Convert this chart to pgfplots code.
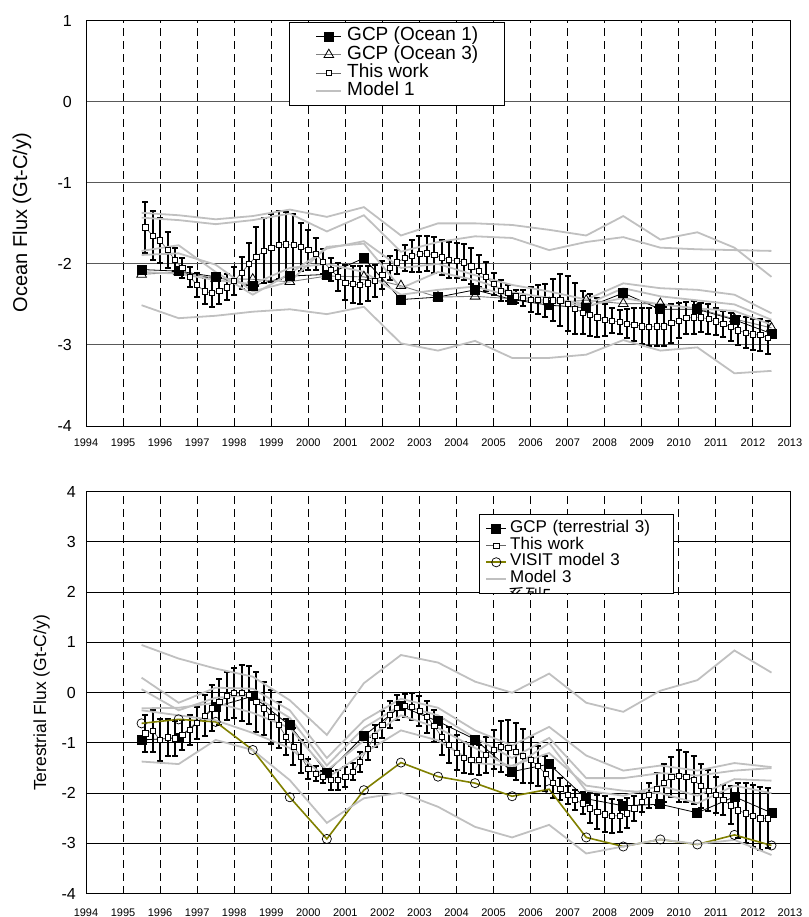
\documentclass[border=0pt]{standalone}
\usepackage{pgfplots}
\pgfplotsset{compat=1.18}
\usepackage{fontspec}
\setmainfont{Liberation Sans}
\newfontfamily\cjk{Noto Sans CJK JP}
\definecolor{mgray}{RGB}{192,192,192}
\definecolor{olivec}{RGB}{128,128,0}
\definecolor{gcpgray}{RGB}{128,128,128}
\pgfplotsset{
 common/.style={
  scale only axis, width=704pt, xmin=1994, xmax=2013, xtick={1994,...,2013},
  /pgf/number format/1000 sep={}, /pgf/number format/assume math mode=true,
  axis line style={black, line width=1pt},
  tick align=inside, major tick length=4pt, xtick pos=left,
  xtick style={black, line width=0.8pt}, ytick style={draw=none},
  xmajorgrids, ymajorgrids,
  x grid style={black, line width=0.8pt, dash pattern=on 8pt off 5pt},
  xticklabel style={font=\fontsize{11}{11}\selectfont},
  legend cell align=left,
 },
 modl/.style={mgray, line width=1.8pt, no markers},
 twork/.style={black!60, line width=0.7pt, mark=square*, mark size=2.6pt,
   mark options={black, fill=white, line width=0.7pt, solid},
   error bars/.cd, y dir=both, y explicit,
   error bar style={black, line width=2pt},
   error mark options={rotate=90, black, line width=2pt, mark size=3pt}},
}
\begin{document}
\begin{tikzpicture}
\path[use as bounding box] (0pt,0pt) rectangle (808pt,-917pt);
% ---------------- top panel
\begin{axis}[common, at={(86pt,-426pt)}, anchor=south west, height=405.3pt,
  ymin=-4, ymax=1, ytick={-4,...,1},
  y grid style={black!65, line width=1pt},
  yticklabel style={font=\fontsize{16}{16}\selectfont, xshift=-10.7pt},
  xticklabel style={yshift=-9.4pt},
  every axis y label/.style={at={(axis description cs:-0.0909,0.502)}, rotate=90, anchor=center},
  ylabel={\fontsize{20}{20}\selectfont Ocean Flux (Gt-C/y)},
  legend image code/.code={\draw[mark repeat=2,mark phase=2] plot coordinates {(0pt,0pt)(12.5pt,0pt)(25pt,0pt)};},
  legend style={at={(axis description cs:0.2884,0.9968)}, anchor=north west, draw=black, fill=white,
    line width=0.8pt, font=\fontsize{19}{19}\selectfont, inner xsep=26pt, inner ysep=4.9pt,
    row sep=0pt, column sep=5pt,
    nodes={inner sep=0pt, text height=13.5pt, text depth=4.8pt, anchor=west}},
]
\addplot[black, line width=0.8pt, mark=square*, mark size=4.5pt, mark options={solid, fill=black}] coordinates {
(1995.5,-2.07) (1996.5,-2.09) (1997.5,-2.16) (1998.5,-2.27) (1999.5,-2.15) (2000.5,-2.13)
(2001.5,-1.93) (2002.5,-2.44) (2003.5,-2.41) (2004.5,-2.32) (2005.5,-2.44) (2006.5,-2.51)
(2007.5,-2.54) (2008.5,-2.36) (2009.5,-2.56) (2010.5,-2.56) (2011.5,-2.69) (2012.5,-2.86)};
\addlegendentry{GCP (Ocean 1)}
\addplot[gcpgray, line width=0.9pt, mark=triangle, mark size=5.6pt, mark options={black, fill=white, line width=0.8pt, solid}] coordinates {
(1995.5,-2.13) (1996.5,-2.10) (1997.5,-2.18) (1998.5,-2.19) (1999.5,-2.22) (2000.5,-2.15)
(2001.5,-2.16) (2002.5,-2.27) (2003.5,-2.41) (2004.5,-2.40) (2005.5,-2.43) (2006.5,-2.48)
(2007.5,-2.45) (2008.5,-2.49) (2009.5,-2.49) (2010.5,-2.55) (2011.5,-2.68) (2012.5,-2.79)};
\addlegendentry{GCP (Ocean 3)}
\addplot[twork] table[x=x, y=y, y error=e] {
x y e
1995.6 -1.55 0.31
1995.8 -1.65 0.30
1996.0 -1.71 0.28
1996.2 -1.83 0.22
1996.4 -1.95 0.14
1996.6 -2.05 0.12
1996.8 -2.16 0.12
1997.0 -2.26 0.15
1997.2 -2.34 0.16
1997.4 -2.36 0.17
1997.6 -2.33 0.16
1997.8 -2.29 0.16
1998.0 -2.21 0.17
1998.2 -2.11 0.20
1998.4 -2.00 0.26
1998.6 -1.91 0.36
1998.8 -1.84 0.40
1999.0 -1.80 0.42
1999.2 -1.77 0.42
1999.4 -1.76 0.40
1999.6 -1.77 0.38
1999.8 -1.79 0.30
2000.0 -1.83 0.25
2000.2 -1.88 0.20
2000.4 -1.97 0.15
2000.6 -2.07 0.14
2000.8 -2.16 0.17
2001.0 -2.23 0.22
2001.2 -2.25 0.23
2001.4 -2.26 0.24
2001.6 -2.24 0.22
2001.8 -2.21 0.20
2002.0 -2.14 0.17
2002.2 -2.05 0.15
2002.4 -1.98 0.15
2002.6 -1.93 0.16
2002.8 -1.90 0.20
2003.0 -1.88 0.22
2003.2 -1.87 0.22
2003.4 -1.89 0.22
2003.6 -1.92 0.22
2003.8 -1.95 0.22
2004.0 -1.96 0.22
2004.2 -1.98 0.22
2004.4 -2.03 0.22
2004.6 -2.09 0.20
2004.8 -2.16 0.18
2005.0 -2.25 0.14
2005.2 -2.33 0.13
2005.4 -2.36 0.10
2005.6 -2.40 0.08
2005.8 -2.42 0.10
2006.0 -2.44 0.15
2006.2 -2.44 0.18
2006.4 -2.45 0.20
2006.6 -2.45 0.26
2006.8 -2.45 0.32
2007.0 -2.49 0.34
2007.2 -2.55 0.32
2007.4 -2.60 0.26
2007.6 -2.63 0.26
2007.8 -2.66 0.24
2008.0 -2.69 0.20
2008.2 -2.70 0.15
2008.4 -2.72 0.15
2008.6 -2.74 0.18
2008.8 -2.75 0.20
2009.0 -2.77 0.22
2009.2 -2.78 0.23
2009.4 -2.77 0.24
2009.6 -2.77 0.24
2009.8 -2.73 0.24
2010.0 -2.70 0.22
2010.2 -2.67 0.20
2010.4 -2.66 0.20
2010.6 -2.66 0.18
2010.8 -2.68 0.18
2011.0 -2.71 0.17
2011.2 -2.74 0.16
2011.4 -2.78 0.17
2011.6 -2.82 0.18
2011.8 -2.85 0.19
2012.0 -2.87 0.19
2012.2 -2.88 0.20
2012.4 -2.91 0.20
};
\addlegendentry{This work}
\addplot[modl] coordinates {
(1995.5,-1.37) (1996.5,-1.40) (1997.5,-1.45) (1998.5,-1.41) (1999.5,-1.33) (2000.5,-1.42)
(2001.5,-1.30) (2002.5,-1.65) (2003.5,-1.50) (2004.5,-1.50) (2005.5,-1.52) (2006.5,-1.58)
(2007.5,-1.65) (2008.5,-1.41) (2009.5,-1.70) (2010.5,-1.61) (2011.5,-1.80) (2012.5,-2.16)};
\addlegendentry{Model 1}
\addplot[modl, forget plot] coordinates {
(1995.5,-1.43) (1996.5,-1.46) (1997.5,-1.51) (1998.5,-1.46) (1999.5,-1.38) (2000.5,-1.60)
(2001.5,-1.40) (2002.5,-1.85) (2003.5,-1.73) (2004.5,-1.66) (2005.5,-1.68) (2006.5,-1.83)
(2007.5,-1.73) (2008.5,-1.67) (2009.5,-1.80) (2010.5,-1.82) (2011.5,-1.83) (2012.5,-1.84)};
\addplot[modl, forget plot] coordinates {
(1995.5,-1.84) (1996.5,-1.77) (1997.5,-2.10) (1998.5,-2.38) (1999.5,-2.12) (2000.5,-1.81)
(2001.5,-1.72) (2002.5,-2.05) (2003.5,-2.00) (2004.5,-2.14) (2005.5,-2.26) (2006.5,-2.34)
(2007.5,-2.44) (2008.5,-2.24) (2009.5,-2.30) (2010.5,-2.32) (2011.5,-2.38) (2012.5,-2.61)};
\addplot[modl, forget plot] coordinates {
(1995.5,-1.89) (1996.5,-1.87) (1997.5,-2.01) (1998.5,-2.34) (1999.5,-2.22) (2000.5,-1.79)
(2001.5,-1.75) (2002.5,-2.30) (2003.5,-2.10) (2004.5,-2.20) (2005.5,-2.35) (2006.5,-2.42)
(2007.5,-2.50) (2008.5,-2.30) (2009.5,-2.40) (2010.5,-2.45) (2011.5,-2.50) (2012.5,-2.69)};
\addplot[modl, forget plot] coordinates {
(1995.5,-2.10) (1996.5,-2.12) (1997.5,-2.20) (1998.5,-2.25) (1999.5,-2.05) (2000.5,-2.00)
(2001.5,-2.10) (2002.5,-2.38) (2003.5,-2.32) (2004.5,-2.28) (2005.5,-2.40) (2006.5,-2.46)
(2007.5,-2.52) (2008.5,-2.42) (2009.5,-2.50) (2010.5,-2.55) (2011.5,-2.58) (2012.5,-2.75)};
\addplot[modl, forget plot] coordinates {
(1995.5,-2.51) (1996.5,-2.67) (1997.5,-2.64) (1998.5,-2.59) (1999.5,-2.56) (2000.5,-2.62)
(2001.5,-2.53) (2002.5,-2.98) (2003.5,-3.07) (2004.5,-2.95) (2005.5,-3.16) (2006.5,-3.16)
(2007.5,-3.12) (2008.5,-2.94) (2009.5,-3.07) (2010.5,-3.03) (2011.5,-3.35) (2012.5,-3.32)};
\end{axis}
% ---------------- bottom panel
\begin{axis}[common, at={(86pt,-893.7pt)}, anchor=south west, height=402pt,
  ymin=-4, ymax=4, ytick={-4,...,4},
  y grid style={black, line width=1pt},
  yticklabel style={font=\fontsize{16}{16}\selectfont, xshift=-6.7pt},
  xticklabel style={yshift=-11.4pt},
  every axis y label/.style={at={(axis description cs:-0.0629,0.4744)}, rotate=90, anchor=center},
  ylabel={\fontsize{17.5}{17.5}\selectfont Terestrial Flux (Gt-C/y)},
  legend image code/.code={\draw[mark repeat=2,mark phase=2] plot coordinates {(0pt,0pt)(10pt,0pt)(20pt,0pt)};},
  legend style={at={(axis description cs:0.5582,0.9445)}, anchor=north west, draw=black, fill=white,
    line width=0.8pt, font=\fontsize{17}{17}\selectfont, inner xsep=6pt, inner ysep=6.1pt,
    row sep=0pt, column sep=3pt,
    nodes={inner sep=0pt, text height=12pt, text depth=4.7pt, anchor=west, text width=157pt}},
]
\addplot[black, line width=0.8pt, mark=square*, mark size=4.5pt, mark options={solid, fill=black}] coordinates {
(1995.5,-0.94) (1996.5,-0.90) (1997.5,-0.28) (1998.5,-0.07) (1999.5,-0.65) (2000.5,-1.59)
(2001.5,-0.86) (2002.5,-0.27) (2003.5,-0.57) (2004.5,-0.93) (2005.5,-1.57) (2006.5,-1.42)
(2007.5,-2.11) (2008.5,-2.25) (2009.5,-2.22) (2010.5,-2.39) (2011.5,-2.07) (2012.5,-2.39)};
\addlegendentry{GCP (terrestrial 3)}
\addplot[twork] table[x=x, y=y, y error=e] {
x y e
1995.6 -0.81 0.36
1995.8 -0.76 0.42
1996.0 -0.94 0.42
1996.2 -0.89 0.36
1996.4 -0.91 0.35
1996.6 -0.84 0.30
1996.8 -0.74 0.30
1997.0 -0.60 0.32
1997.2 -0.46 0.41
1997.4 -0.31 0.46
1997.6 -0.18 0.46
1997.8 -0.07 0.48
1998.0 -0.01 0.50
1998.2 -0.01 0.56
1998.4 -0.05 0.58
1998.6 -0.18 0.60
1998.8 -0.31 0.53
1999.0 -0.48 0.54
1999.2 -0.64 0.46
1999.4 -0.88 0.36
1999.6 -1.07 0.36
1999.8 -1.27 0.33
2000.0 -1.51 0.20
2000.2 -1.61 0.15
2000.4 -1.67 0.12
2000.6 -1.74 0.19
2000.8 -1.74 0.20
2001.0 -1.67 0.20
2001.2 -1.57 0.17
2001.4 -1.37 0.20
2001.6 -1.11 0.23
2001.8 -0.86 0.22
2002.0 -0.64 0.27
2002.2 -0.44 0.27
2002.4 -0.30 0.25
2002.6 -0.26 0.23
2002.8 -0.28 0.27
2003.0 -0.36 0.30
2003.2 -0.48 0.32
2003.4 -0.66 0.32
2003.6 -0.88 0.36
2003.8 -1.04 0.36
2004.0 -1.19 0.35
2004.2 -1.29 0.30
2004.4 -1.34 0.28
2004.6 -1.34 0.30
2004.8 -1.24 0.35
2005.0 -1.13 0.38
2005.2 -1.07 0.50
2005.4 -1.09 0.54
2005.6 -1.17 0.56
2005.8 -1.26 0.53
2006.0 -1.34 0.46
2006.2 -1.46 0.40
2006.4 -1.61 0.35
2006.6 -1.80 0.30
2006.8 -1.92 0.22
2007.0 -2.04 0.18
2007.2 -2.14 0.20
2007.4 -2.20 0.22
2007.6 -2.30 0.30
2007.8 -2.37 0.34
2008.0 -2.42 0.36
2008.2 -2.45 0.34
2008.4 -2.45 0.32
2008.6 -2.40 0.30
2008.8 -2.30 0.25
2009.0 -2.17 0.20
2009.2 -2.04 0.25
2009.4 -1.92 0.32
2009.6 -1.79 0.38
2009.8 -1.67 0.40
2010.0 -1.66 0.52
2010.2 -1.67 0.50
2010.4 -1.74 0.48
2010.6 -1.86 0.44
2010.8 -1.95 0.41
2011.0 -2.04 0.36
2011.2 -2.14 0.30
2011.4 -2.24 0.38
2011.6 -2.34 0.55
2011.8 -2.40 0.60
2012.0 -2.45 0.62
2012.2 -2.50 0.63
2012.4 -2.50 0.60
};
\addlegendentry{This work}
\addplot[olivec, line width=1.6pt, mark=o, mark size=4.6pt, mark options={black, fill=none, line width=0.7pt, solid}] coordinates {
(1995.5,-0.61) (1996.5,-0.53) (1997.5,-0.58) (1998.5,-1.14) (1999.5,-2.08) (2000.5,-2.91)
(2001.5,-1.94) (2002.5,-1.39) (2003.5,-1.67) (2004.5,-1.80) (2005.5,-2.06) (2006.5,-1.92)
(2007.5,-2.88) (2008.5,-3.06) (2009.5,-2.92) (2010.5,-3.02) (2011.5,-2.83) (2012.5,-3.04)};
\addlegendentry{VISIT model 3}
\addplot[modl] coordinates {
(1995.5,0.95) (1996.5,0.68) (1997.5,0.48) (1998.5,0.32) (1999.5,-0.15) (2000.5,-0.84)
(2001.5,0.19) (2002.5,0.75) (2003.5,0.60) (2004.5,0.22) (2005.5,0.00) (2006.5,0.38)
(2007.5,-0.20) (2008.5,-0.38) (2009.5,0.04) (2010.5,0.25) (2011.5,0.84) (2012.5,0.40)};
\addlegendentry{Model 3}
\addplot[modl, forget plot] coordinates {
(1995.5,0.30) (1996.5,-0.20) (1997.5,0.10) (1998.5,0.08) (1999.5,-0.35) (2000.5,-1.30)
(2001.5,-0.55) (2002.5,-0.12) (2003.5,-0.30) (2004.5,-0.75) (2005.5,-1.05) (2006.5,-0.68)
(2007.5,-1.25) (2008.5,-1.55) (2009.5,-1.45) (2010.5,-1.55) (2011.5,-1.40) (2012.5,-1.48)};
\addplot[modl, forget plot] coordinates {
(1995.5,0.07) (1996.5,-0.35) (1997.5,-0.10) (1998.5,-0.05) (1999.5,-0.50) (2000.5,-1.45)
(2001.5,-0.70) (2002.5,-0.25) (2003.5,-0.45) (2004.5,-0.90) (2005.5,-1.30) (2006.5,-0.90)
(2007.5,-1.70) (2008.5,-1.70) (2009.5,-1.60) (2010.5,-1.65) (2011.5,-1.55) (2012.5,-1.50)};
\addplot[modl, forget plot] coordinates {
(1995.5,-0.31) (1996.5,-0.30) (1997.5,-0.20) (1998.5,-0.40) (1999.5,-0.70) (2000.5,-1.55)
(2001.5,-0.95) (2002.5,-0.45) (2003.5,-0.70) (2004.5,-1.10) (2005.5,-1.50) (2006.5,-1.00)
(2007.5,-1.95) (2008.5,-2.05) (2009.5,-1.85) (2010.5,-2.05) (2011.5,-1.72) (2012.5,-1.75)};
\addplot[modl, forget plot] coordinates {
(1995.5,-0.35) (1996.5,-0.45) (1997.5,-0.55) (1998.5,-0.80) (1999.5,-1.10) (2000.5,-1.70)
(2001.5,-1.20) (2002.5,-0.75) (2003.5,-0.95) (2004.5,-1.40) (2005.5,-1.45) (2006.5,-1.20)
(2007.5,-1.85) (2008.5,-1.95) (2009.5,-2.00) (2010.5,-2.20) (2011.5,-1.85) (2012.5,-2.00)};
\addplot[modl, forget plot] coordinates {
(1995.5,-1.37) (1996.5,-1.42) (1997.5,-0.94) (1998.5,-1.14) (1999.5,-1.74) (2000.5,-2.59)
(2001.5,-2.10) (2002.5,-1.99) (2003.5,-2.27) (2004.5,-2.67) (2005.5,-2.88) (2006.5,-2.63)
(2007.5,-3.20) (2008.5,-3.06) (2009.5,-2.92) (2010.5,-3.01) (2011.5,-2.93) (2012.5,-3.23)};
\end{axis}
\begin{scope}
\clip (480pt,-586pt) rectangle (670pt,-592.6pt);
\node[anchor=base west, inner sep=0pt, font=\cjk\fontsize{17}{17}\selectfont] at (508pt,-601.5pt) {系列5};
\end{scope}
\end{tikzpicture}
\end{document}
